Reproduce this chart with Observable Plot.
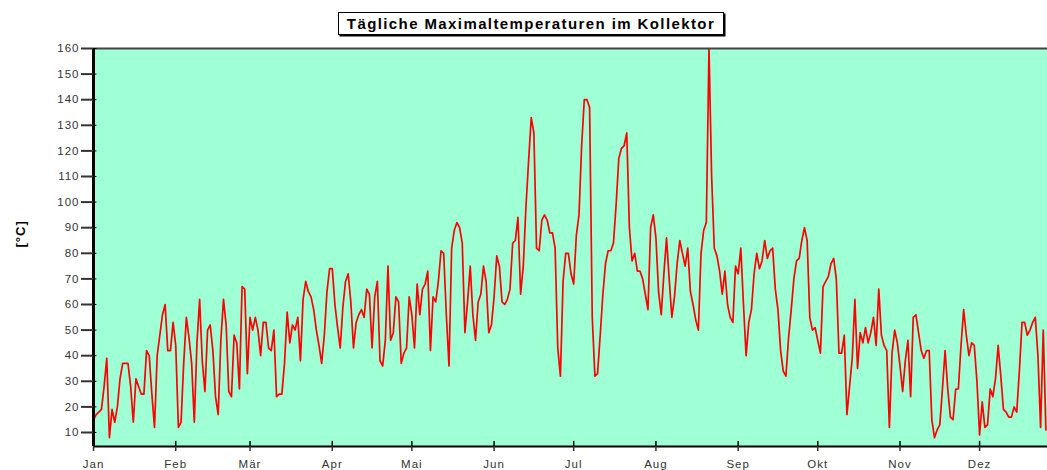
<!DOCTYPE html>
<html>
<head>
<meta charset="utf-8">
<script src="https://cdn.jsdelivr.net/npm/d3@7"></script>
<script src="https://cdn.jsdelivr.net/npm/@observablehq/plot@0.6"></script>
<style>
  html, body { margin: 0; padding: 0; background: #fff; }
  #wrap { position: relative; width: 1047px; height: 470px; overflow: hidden; }
  #title {
    position: absolute; left: 338px; top: 12px; width: 384px; height: 21px;
    border: 1.5px solid #000; box-shadow: 1.5px 1.5px 0 #000; background: #fff;
    font: bold 15px "Liberation Sans", Arial, sans-serif; color: #000;
    text-align: center; line-height: 21px; letter-spacing: 1.4px; white-space: nowrap;
  }
</style>
</head>
<body>
<div id="wrap">
  <div id="chart"></div>
  <div id="title">Tägliche Maximaltemperaturen im Kollektor</div>
</div>
<script>
// Daily maximum collector temperature, one value per day starting 1 January
const temps = [
  15,17,18,19,28,39,8,19,14,20,
  31,37,37,37,28,14,31,28,25,25,
  42,40,25,12,40,48,56,60,42,42,
  53,44,12,14,37,55,47,37,14,45,
  62,38,26,50,52,42,24,17,46,62,
  52,26,24,48,45,27,67,66,33,55,
  50,55,50,40,53,53,43,42,50,24,
  25,25,37,57,45,52,50,55,38,62,
  69,65,63,58,50,44,37,48,65,74,
  74,60,51,43,59,69,72,61,43,53,
  56,58,55,66,64,43,63,69,38,36,
  46,75,46,49,63,61,37,41,43,63,
  56,43,68,56,66,68,73,42,63,61,
  69,81,80,56,36,82,89,92,90,84,
  49,61,75,56,46,61,64,75,69,49,
  52,63,79,75,61,60,62,66,84,85,
  94,64,75,98,116,133,127,82,81,93,
  95,93,88,88,82,43,32,69,80,80,
  72,68,87,95,122,140,140,137,55,32,
  33,48,64,76,81,81,84,99,117,121,
  122,127,90,77,80,73,73,70,64,58,
  90,95,86,65,56,72,86,70,55,63,
  76,85,80,75,82,65,60,54,50,80,
  89,92,160,110,82,79,73,64,73,60,
  55,53,75,72,82,60,40,53,58,72,
  80,74,77,85,78,81,82,66,58,42,
  34,32,47,58,70,77,78,85,90,85,
  55,50,51,46,41,67,69,71,76,78,
  70,41,41,48,17,28,39,62,35,49,
  45,51,45,49,55,44,66,48,44,42,
  12,41,50,45,36,26,38,46,24,55,
  56,49,42,39,42,42,15,8,11,13,
  27,42,27,16,15,27,27,44,58,48,
  40,45,44,30,9,22,12,13,27,24,
  31,44,32,19,18,16,16,20,18,34,
  53,53,48,50,53,55,40,12,50,11
];
const monthLabels = ["Jan","Feb","Mär","Apr","Mai","Jun","Jul","Aug","Sep","Okt","Nov","Dez"];
const yTicks = [10,20,30,40,50,60,70,80,90,100,110,120,130,140,150,160];
const yTitle = "[°C]";
const year = 2007;

const DAY = 86400000;
const t0 = Date.UTC(year, 0, 1);
const data = temps.map((t, i) => ({date: new Date(t0 + i * DAY), t}));
const monthStarts = monthLabels.map((_, m) => new Date(Date.UTC(year, m, 1)));
const xStart = new Date(t0);
const xEnd = new Date(t0 + 359.6 * DAY);
const yMin = 4.53, yMax = 160;

const chart = Plot.plot({
  width: 1047,
  height: 470,
  marginLeft: 93,
  marginRight: 0,
  marginTop: 48,
  marginBottom: 24,
  style: {fontFamily: "'Liberation Sans', Arial, sans-serif", background: "transparent", letterSpacing: "1px"},
  x: {type: "utc", domain: [xStart, xEnd]},
  y: {domain: [yMin, yMax]},
  marks: [
    Plot.frame({fill: "#9fffd5", stroke: null}),
    Plot.line(data, {x: "date", y: "t", stroke: "#ff0000", strokeWidth: 1.7}),
    Plot.ruleY([yMax], {stroke: "#444", strokeWidth: 2}),
    Plot.ruleY([yMin], {stroke: "#000", strokeWidth: 2}),
    Plot.ruleX([xStart], {stroke: "#000", strokeWidth: 3}),
    Plot.ruleY(yTicks, {x1: xStart, x2: new Date(t0 + 1.3 * DAY), stroke: "#000", strokeWidth: 1}),
    Plot.axisY({ticks: yTicks, tickSize: 12, tickPadding: 2, tickFormat: d => d, fontSize: 11.5, label: null, strokeWidth: 2, color: "#333"}),
    Plot.axisX({ticks: monthStarts, tickSize: 5, tickPadding: 8, tickFormat: (d) => monthLabels[d.getUTCMonth()], fontSize: 11.5, label: null, strokeWidth: 1.5, color: "#333"}),
    Plot.ruleX(monthStarts, {y1: yMin, y2: yMin + 2, stroke: "#000", strokeWidth: 1.5}),
    Plot.text([yTitle], {frameAnchor: "left", dx: -73, rotate: -90, fontWeight: "bold", fontSize: 13, fill: "#000"})
  ]
});
document.getElementById("chart").appendChild(chart);
</script>
</body>
</html>
